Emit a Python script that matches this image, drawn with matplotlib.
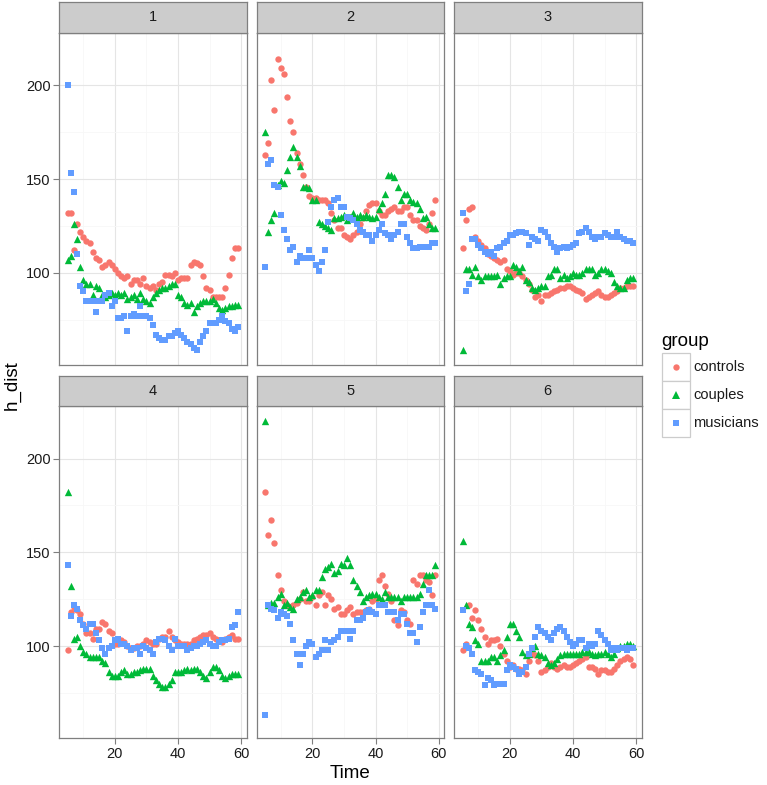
import numpy as np
import matplotlib
matplotlib.use('Agg')
import matplotlib.pyplot as plt
from matplotlib.patches import Rectangle
from matplotlib.lines import Line2D

plt.rcParams['font.family'] = ['Liberation Sans', 'DejaVu Sans']

time = np.arange(5, 60)
groups = ['controls', 'couples', 'musicians']
colors = {'controls': '#F8766D', 'couples': '#00BA38', 'musicians': '#619CFF'}
markers = {'controls': 'o', 'couples': '^', 'musicians': 's'}
msize = {'controls': 21, 'couples': 28, 'musicians': 18}
x_ticks = [20, 40, 60]
y_ticks = [100, 150, 200]

p1_controls = [132,132,112,126,122,119,117,116,111,108, 107,103,104,106,104,102,100,98,97,98,
               94,96,96,94,97,93,92,93,91,94, 95,99,99,98,100,96,97,97,97,104,
               106,105,104,98,92,91,87,87,87,87, 92,99,108,113,113]
p1_couples = [107,109,126,118,103,96,94,94,88,93, 92,88,87,88,89,88,89,88,89,86,
              87,88,86,89,86,85,84,87,89,91, 92,92,93,94,94,88,87,84,83,84,
              79,82,84,85,85,85,86,84,81,80, 81,82,82,83,83]
p1_musicians = [200,153,143,110,93,90,85,85,85,79, 85,85,88,89,82,85,76,76,77,69,
                77,78,77,82,77,77,76,72,67,65, 64,64,66,66,68,69,67,65,63,62,
                60,59,63,66,69,73,73,73,75,77, 74,73,70,69,71]

p2_controls = [163,169,203,187,214,209,206,194,181,175, 164,158,152,146,141,140,140,139,139,139,
               137,132,128,124,124,120,119,118,120,122, 126,129,133,136,137,137,133,131,131,133,
               134,135,133,133,135,135,131,128,128,125, 124,123,126,132,139]
p2_couples = [175,122,128,132,147,149,148,155,162,167, 162,157,146,146,145,139,139,127,126,125,
              124,123,129,129,130,131,128,130,132,130, 131,130,131,130,129,130,134,137,142,152,
              152,151,146,139,142,142,139,138,137,134, 129,130,126,124,124]
p2_musicians = [103,158,160,147,146,131,123,118,112,114, 106,109,108,108,112,108,104,101,106,112,
                127,135,139,140,135,135,130,129,128,126, 123,122,120,120,117,120,123,126,121,120,
                118,120,122,126,126,119,116,113,113,114, 114,114,114,116,116]

p3_controls = [113,128,134,135,119,117,115,113,110,109, 108,107,106,107,102,101,99,100,100,98,
               96,94,91,87,88,85,88,88,89,90, 91,92,92,93,93,92,91,90,89,86,
               87,88,89,90,88,87,87,88,89,90, 92,92,93,93,93]
p3_couples = [59,102,102,99,103,98,96,98,98,98, 98,99,94,97,98,98,104,103,101,103,
              96,95,92,91,92,93,93,98,99,102, 102,97,99,97,98,100,99,99,100,102,
              102,102,99,100,102,102,101,100,95,93, 92,92,96,97,97]
p3_musicians = [132,90,94,118,118,115,113,111,110,111, 109,113,114,116,117,120,120,121,122,122,
                121,115,119,118,117,123,122,119,116,114, 111,113,114,113,114,115,116,121,122,124,
                122,119,118,119,119,121,120,119,119,122, 119,118,117,117,116]

p4_controls = [98,118,121,119,117,112,107,107,104,109, 109,113,112,108,107,101,101,103,102,100,
               99,99,100,100,101,103,102,101,101,104, 105,105,108,105,103,102,101,101,101,101,
               103,104,105,106,106,107,105,104,103,102, 104,105,106,104,104]
p4_couples = [182,132,104,105,100,97,96,94,94,94, 94,92,91,86,84,84,84,86,87,85,
              85,86,86,87,88,88,88,84,82,80, 78,78,80,82,86,86,86,87,88,87,
              88,88,86,84,83,86,89,89,87,84, 83,84,85,85,85]
p4_musicians = [143,116,122,120,114,111,109,112,112,107, 103,99,96,99,100,103,104,101,101,100,
                98,99,99,96,100,99,98,96,102,104, 104,103,100,98,104,100,100,100,98,99,
                100,100,101,102,103,101,100,100,102,103, 103,104,110,111,118]

p5_controls = [182,159,167,155,138,130,124,122,121,122, 123,125,129,124,124,126,122,127,129,122,
               127,125,120,121,117,117,119,121,117,118, 118,118,119,120,124,125,135,138,132,128,
               124,114,111,119,118,114,112,135,133,138, 138,135,134,127,138]
p5_couples = [220,122,123,123,126,128,122,123,121,120, 125,126,129,130,126,127,130,130,137,141,
              142,144,139,140,144,143,147,143,135,132, 129,124,126,127,128,128,126,125,129,126,
              126,126,126,124,126,126,126,126,126,128, 133,138,138,138,143]
p5_musicians = [63,122,120,119,115,118,117,116,112,103, 96,90,96,100,102,101,94,96,98,103,
                98,102,103,105,108,108,108,104,108,114, 114,115,118,119,118,117,122,122,122,118,
                118,118,114,117,117,112,107,107,102,110, 118,122,130,122,120]

p6_controls = [98,101,122,115,119,114,109,105,101,103, 103,104,100,96,92,89,90,88,88,87,
               85,92,96,95,92,86,87,89,91,89, 88,89,90,89,89,90,91,92,93,94,
               89,89,88,85,87,87,86,86,88,90, 92,93,94,93,90]
p6_couples = [156,122,112,110,103,101,92,92,92,94, 94,92,95,98,105,112,112,108,105,97,
              95,96,99,100,96,95,94,91,90,91, 93,95,96,96,96,96,96,96,97,97,
              97,96,95,96,96,97,96,94,96,99, 100,100,101,101,100]
p6_musicians = [119,100,99,96,87,86,85,79,83,82, 79,80,80,80,87,90,89,88,85,86,
                89,96,99,105,110,108,107,105,103,107, 109,110,108,105,102,100,101,103,103,99,
                101,100,101,108,106,103,101,98,99,98, 99,99,98,99,99]

panels = ['1', '2', '3', '4', '5', '6']
data = {
    '1': {'controls': p1_controls, 'couples': p1_couples, 'musicians': p1_musicians},
    '2': {'controls': p2_controls, 'couples': p2_couples, 'musicians': p2_musicians},
    '3': {'controls': p3_controls, 'couples': p3_couples, 'musicians': p3_musicians},
    '4': {'controls': p4_controls, 'couples': p4_couples, 'musicians': p4_musicians},
    '5': {'controls': p5_controls, 'couples': p5_couples, 'musicians': p5_musicians},
    '6': {'controls': p6_controls, 'couples': p6_couples, 'musicians': p6_musicians},
}

W, H = 767, 785
fig = plt.figure(figsize=(W / 100, H / 100), dpi=100)
fig.patch.set_facecolor('white')

def fx(px):
    return px / W

def fy(py):
    return 1 - py / H

allv = np.concatenate([np.asarray(data[p][g], float) for p in panels for g in groups])
ylo, yhi = allv.min(), allv.max()
ypad = 0.05 * (yhi - ylo)
xpad = 0.05 * (time.max() - time.min())

col_left = [59, 256.5, 454]
pw = 187.5
row_top = [32.7, 406]
ph = 332
strip_h = 30.5
border = '#7F7F7F'

for i, p in enumerate(panels):
    r, c = divmod(i, 3)
    x0, y0 = col_left[c], row_top[r]
    ax = fig.add_axes([fx(x0), fy(y0 + ph), pw / W, ph / H])
    ax.set_facecolor('white')
    for g in groups:
        ax.scatter(time, data[p][g], marker=markers[g], c=colors[g], s=msize[g],
                   linewidths=0, zorder=3)
    ax.set_xlim(time.min() - xpad, time.max() + xpad)
    ax.set_ylim(ylo - ypad, yhi + ypad)
    ax.set_xticks(x_ticks)
    ax.set_xticks([10, 30, 50], minor=True)
    ax.set_yticks(y_ticks)
    ax.set_yticks([75, 125, 175], minor=True)
    ax.grid(which='major', color='#E5E5E5', lw=0.8)
    ax.grid(which='minor', color='#F7F7F7', lw=0.6)
    ax.set_axisbelow(True)
    for s in ax.spines.values():
        s.set_color(border)
        s.set_linewidth(0.9)
    ax.tick_params(which='major', length=4.2, width=0.8, color=border,
                   labelsize=10.5, labelcolor='#1a1a1a', pad=2)
    ax.tick_params(which='minor', length=0)
    if c != 0:
        ax.tick_params(labelleft=False, left=False)
    if r != 1:
        ax.tick_params(labelbottom=False, bottom=False)
    sax = fig.add_axes([fx(x0), fy(y0), pw / W, strip_h / H])
    sax.set_facecolor('#CCCCCC')
    sax.set_xticks([])
    sax.set_yticks([])
    for s in sax.spines.values():
        s.set_color(border)
        s.set_linewidth(0.9)
    sax.text(0.5, 0.5, p, ha='center', va='center', fontsize=10.5,
             color='#1a1a1a', transform=sax.transAxes)

fig.text(fx(350), fy(774), 'Time', ha='center', va='center', fontsize=13.5)
fig.text(fx(12), fy(385), 'h_dist', ha='center', va='center', rotation=90, fontsize=13.5)

# legend
fig.text(fx(661.5), fy(346.5), 'group', ha='left', va='baseline', fontsize=13.5)
kx0, kw, kh, ky0 = 661.5, 28, 28, 353.3
for j, g in enumerate(groups):
    ky = ky0 + j * kh
    fig.patches.append(Rectangle((fx(kx0), fy(ky + kh)), kw / W, kh / H,
                                 transform=fig.transFigure, facecolor='white',
                                 edgecolor='#CCCCCC', lw=0.9))
    fig.lines.append(Line2D([fx(kx0 + kw / 2)], [fy(ky + kh / 2)], transform=fig.transFigure,
                            marker=markers[g], color=colors[g], linestyle='none',
                            markersize=np.sqrt(msize[g]), markeredgewidth=0))
    fig.text(fx(693), fy(ky + kh / 2), g, ha='left', va='center', fontsize=10.5,
             color='#1a1a1a')

fig.savefig('out.png', dpi=100, facecolor='white')
